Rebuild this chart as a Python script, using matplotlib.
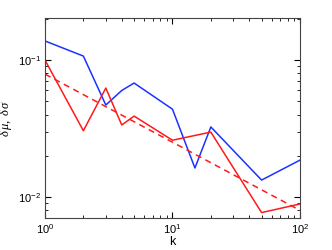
import matplotlib
matplotlib.use("Agg")
import matplotlib.pyplot as plt
import numpy as np

# values
k_blue = [1, 2, 3, 4, 5, 10, 15, 20, 50, 100]
mu_err = [0.138, 0.107, 0.047, 0.060, 0.068, 0.0438, 0.0163, 0.0325, 0.0133, 0.0186]

k_red = [1, 2, 3, 4, 5, 10, 20, 50, 100]
sigma_err = [0.100, 0.0305, 0.0625, 0.0336, 0.039, 0.026, 0.0298, 0.0077, 0.0089]

k_fit = [1, 100]
fit = [0.079, 0.0080]

plt.rcParams['font.family'] = ['Liberation Sans', 'DejaVu Sans']
plt.rcParams['mathtext.fontset'] = 'custom'
plt.rcParams['mathtext.rm'] = 'Liberation Serif'
plt.rcParams['mathtext.it'] = 'Liberation Serif:italic'

fig = plt.figure(figsize=(3.32, 2.5), dpi=100)
ax = fig.add_axes([0.1355, 0.128, 0.768, 0.80])

ax.loglog(k_blue, mu_err, color=(0.1, 0.2, 1.0), lw=1.1)
ax.loglog(k_red, sigma_err, color=(1.0, 0.1, 0.1), lw=1.1)
ax.loglog(k_fit, fit, color=(1.0, 0.1, 0.1), lw=1.1, ls=(0, (4, 3)))

ax.set_xlim(1, 100)
ax.set_ylim(0.00703, 0.203)
ax.tick_params(which='both', direction='in', top=True, right=True, labelsize=8, pad=3)
ax.tick_params(which='major', length=4)
ax.tick_params(which='minor', length=2)
for s in ax.spines.values():
    s.set_color('#444444')
    s.set_linewidth(0.8)

ax.set_xlabel('k', fontsize=9, labelpad=0)
ax.set_ylabel(r'$\delta\,\bar{\mu},\ \delta\,\bar{\sigma}$', fontsize=9, labelpad=2)

fig.savefig('out.png', dpi=100)
